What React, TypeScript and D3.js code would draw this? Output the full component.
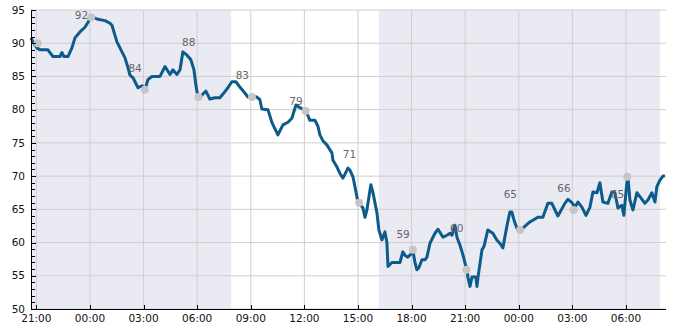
import React from "react";
import * as d3 from "d3";

// hours since 21:00 (day 1), value
const seriesHours = [-0.3,-0.19,0.03,0.2,0.65,0.76,0.93,1.32,1.43,1.54,1.77,1.99,2.16,2.44,2.72,3.06,3.17,3.45,3.84,4.12,4.23,4.51,4.96,5.13,5.24,5.41,5.69,5.91,6.08,6.24,6.47,6.92,7.2,7.48,7.64,7.87,8.04,8.2,8.43,8.65,8.82,8.93,9.04,9.27,9.49,9.71,9.99,10.27,10.49,10.72,10.94,11.17,11.39,11.61,11.84,12.06,12.34,12.51,12.62,12.96,13.18,13.52,13.8,14.08,14.3,14.53,14.75,15.09,15.31,15.59,15.76,15.87,16.04,16.26,16.54,16.6,16.82,16.99,17.16,17.44,17.55,17.72,18.0,18.05,18.28,18.39,18.5,18.72,18.84,19.06,19.17,19.34,19.51,19.62,19.68,19.9,20.35,20.51,20.63,20.79,21.02,21.07,21.19,21.3,21.41,21.58,21.75,21.86,22.03,22.31,22.48,22.76,22.98,23.15,23.26,23.43,23.54,23.71,23.88,24.05,24.1,24.16,24.27,24.38,24.49,24.6,24.66,24.72,24.94,25.05,25.27,25.55,25.77,25.94,26.11,26.33,26.5,26.61,26.73,26.89,27.12,27.62,28.07,28.35,28.63,28.85,29.19,29.58,29.75,29.98,30.14,30.31,30.54,30.76,30.98,31.15,31.38,31.54,31.71,31.99,32.21,32.38,32.55,32.77,32.88,33.05,33.11,33.22,33.39,33.61,33.78,34.06,34.23,34.45,34.62,34.73,34.9,35.07,35.18];
const seriesValues = [90.8,90.2,89.3,89.0,89.0,88.6,88.0,88.0,88.6,88.0,88.0,89.3,90.8,91.7,92.4,93.9,93.9,93.6,93.4,93.0,92.7,90.2,87.8,86.3,85.2,84.8,83.3,83.6,83.0,84.5,85.0,85.0,86.5,85.3,86.0,85.3,86.0,88.7,88.2,87.5,86.0,83.7,81.9,82.2,82.8,81.6,81.8,81.8,82.5,83.3,84.2,84.2,83.4,82.7,81.9,82.0,81.9,81.5,80.1,80.0,78.1,76.2,77.7,78.1,78.7,80.7,80.3,79.8,78.4,78.4,77.5,76.2,75.3,74.7,73.5,72.4,71.4,70.4,69.7,71.2,70.9,69.9,66.1,66.0,65.2,63.8,64.9,68.7,67.5,64.5,61.9,60.4,61.6,60.0,56.4,57.0,57.0,58.6,58.1,57.8,58.4,58.9,57.0,55.9,56.2,57.4,57.4,57.8,59.9,61.4,62.0,60.8,61.1,61.4,61.1,62.6,60.8,59.6,58.1,56.3,55.9,54.7,53.4,54.8,54.8,54.8,53.4,54.8,58.9,59.4,61.9,61.4,60.4,59.9,59.2,62.4,64.6,64.6,63.4,62.2,61.9,63.1,63.8,63.8,65.9,65.9,64.0,65.9,66.5,66.0,65.3,66.1,65.3,64.1,65.3,67.6,67.5,69.0,66.1,65.9,67.6,67.5,65.2,65.6,64.1,69.0,69.9,66.4,64.9,67.5,66.9,65.9,66.4,67.5,66.1,68.4,69.4,70.0,70.0];

const markerHours = [0.07,3.07,6.07,9.07,12.07,15.07,18.07,21.07,24.07,27.07,30.07,33.07];
const markerValues = [90.0,93.9,83.0,81.9,81.9,79.8,66.0,58.9,55.9,61.9,64.9,69.9];
const labelValues: (number | null)[] = [null,92,84,88,83,79,71,59,60,65,66,65];

// night shading [startHour, endHour] since 21:00
const nightStart = [-0.3, 19.17];
const nightEnd = [10.9, 34.9];

const yTicks = [50,55,60,65,70,75,80,85,90,95];

const W = 685, H = 330;
const M = { left: 31, right: 666, top: 10, bottom: 309 };

const base = new Date(2023, 0, 1, 21, 0, 0);
const t = (h: number) => new Date(base.getTime() + h * 3600 * 1000);

export default function App() {
  const x = d3.scaleTime().domain([t(-0.3), t(35.24)]).range([M.left, M.right]);
  const y = d3.scaleLinear().domain([50, 95]).range([M.bottom, M.top]);
  const xTicks = d3.range(0, 34, 3).map(t);
  const fmt = d3.timeFormat("%H:%M");
  const minor = d3.range(50, 96, 1);
  const data = seriesHours.map((h, i) => [t(h), seriesValues[i]] as [Date, number]);
  const line = d3.line<[Date, number]>().x(d => x(d[0])).y(d => y(d[1]));
  const font = "DejaVu Sans, sans-serif";
  return (
    <svg width={W} height={H} style={{ position: "absolute", left: 0, top: 0, background: "#fff" }}>
      {nightStart.map((s, i) => (
        <rect key={i} x={x(t(s))} y={M.top} width={x(t(nightEnd[i])) - x(t(s))} height={M.bottom - M.top} fill="#eaeaf2" />
      ))}
      {yTicks.map(v => (
        <line key={v} x1={M.left} x2={M.right} y1={y(v)} y2={y(v)} stroke="#cfcfcf" strokeWidth={1} />
      ))}
      {xTicks.map((d, i) => (
        <line key={i} x1={x(d)} x2={x(d)} y1={M.top} y2={M.bottom} stroke="#cfcfcf" strokeWidth={1} />
      ))}
      <path d={line(data) || ""} fill="none" stroke="#0d5b8c" strokeWidth={3} strokeLinejoin="round" />
      {markerHours.map((h, i) => (
        <circle key={i} cx={x(t(h))} cy={y(markerValues[i])} r={4} fill="#c6c6c6" />
      ))}
      {markerHours.map((h, i) => labelValues[i] == null ? null : (
        <text key={i} x={x(t(h)) - 3} y={y(labelValues[i] as number) - 11} textAnchor="end" fontFamily={font} fontSize={10.5} fill="#666">{labelValues[i]}</text>
      ))}
      {/* axes */}
      <line x1={M.left + 0.5} x2={M.left + 0.5} y1={M.top} y2={M.bottom} stroke="#000" strokeWidth={1} />
      <line x1={M.left} x2={M.right} y1={M.bottom + 0.5} y2={M.bottom + 0.5} stroke="#000" strokeWidth={1} />
      {minor.map(v => (
        <line key={v} x1={M.left} x2={M.left + (v % 5 === 0 ? 5 : 4)} y1={Math.round(y(v)) + 0.5} y2={Math.round(y(v)) + 0.5} stroke="#000" strokeWidth={1} />
      ))}
      {yTicks.map(v => (
        <text key={v} x={25} y={y(v)} dy="0.35em" textAnchor="end" fontFamily={font} fontSize={10.5} fill="#111">{v}</text>
      ))}
      {xTicks.map((d, i) => (
        <g key={i}>
          <line x1={Math.round(x(d)) + 0.5} x2={Math.round(x(d)) + 0.5} y1={M.bottom - 4} y2={M.bottom} stroke="#000" strokeWidth={1} />
          <text x={x(d)} y={M.bottom + 13} textAnchor="middle" fontFamily={font} fontSize={10.5} fill="#111">{fmt(d)}</text>
        </g>
      ))}
    </svg>
  );
}
